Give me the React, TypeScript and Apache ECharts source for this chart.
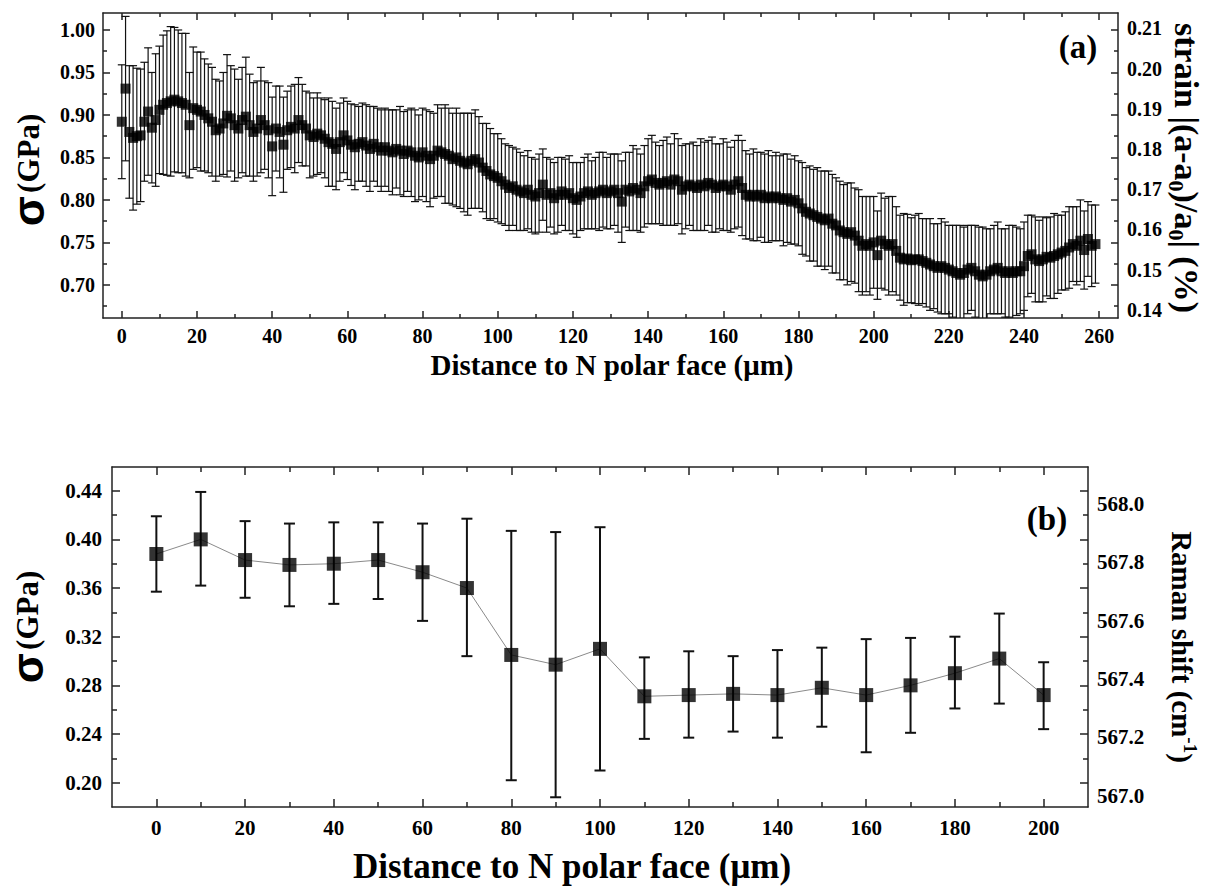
import React, { useEffect, useRef } from "react";
import * as echarts from "echarts";

// ---------- Panel (a): XRD stress profile, 1 µm step ----------
const distanceStartA = 0;
const distanceStepA = 1;
const stressA = [
  0.892, 0.931, 0.880, 0.873, 0.875, 0.876, 0.892, 0.904, 0.885, 0.894,
  0.906, 0.912, 0.914, 0.916, 0.918, 0.916, 0.914, 0.912, 0.888, 0.908,
  0.906, 0.904, 0.900, 0.896, 0.892, 0.882, 0.884, 0.890, 0.899, 0.896,
  0.888, 0.884, 0.894, 0.898, 0.888, 0.880, 0.884, 0.894, 0.888, 0.882,
  0.863, 0.884, 0.880, 0.865, 0.882, 0.886, 0.884, 0.894, 0.888, 0.884,
  0.876, 0.874, 0.878, 0.876, 0.872, 0.868, 0.866, 0.860, 0.868, 0.876,
  0.870, 0.865, 0.862, 0.866, 0.868, 0.864, 0.860, 0.866, 0.862, 0.858,
  0.862, 0.858, 0.856, 0.860, 0.858, 0.854, 0.858, 0.856, 0.852, 0.850,
  0.856, 0.852, 0.848, 0.852, 0.858, 0.856, 0.854, 0.852, 0.848, 0.850,
  0.846, 0.844, 0.842, 0.846, 0.848, 0.844, 0.838, 0.834, 0.830, 0.828,
  0.826, 0.822, 0.818, 0.814, 0.816, 0.812, 0.810, 0.808, 0.812, 0.806,
  0.804, 0.808, 0.818, 0.806, 0.808, 0.802, 0.806, 0.810, 0.806, 0.808,
  0.802, 0.800, 0.804, 0.808, 0.810, 0.806, 0.808, 0.810, 0.812, 0.808,
  0.810, 0.812, 0.808, 0.798, 0.812, 0.810, 0.814, 0.812, 0.808, 0.816,
  0.822, 0.824, 0.820, 0.818, 0.820, 0.822, 0.818, 0.824, 0.822, 0.812,
  0.816, 0.818, 0.816, 0.814, 0.818, 0.816, 0.820, 0.818, 0.814, 0.816,
  0.818, 0.816, 0.812, 0.818, 0.822, 0.814, 0.806, 0.804, 0.806, 0.804,
  0.806, 0.802, 0.804, 0.802, 0.804, 0.802, 0.800, 0.802, 0.798, 0.800,
  0.796, 0.790, 0.786, 0.784, 0.782, 0.780, 0.778, 0.776, 0.778, 0.772,
  0.770, 0.764, 0.762, 0.760, 0.762, 0.758, 0.752, 0.746, 0.748, 0.746,
  0.750, 0.735, 0.752, 0.748, 0.746, 0.748, 0.740, 0.732, 0.730, 0.731,
  0.729, 0.730, 0.730, 0.728, 0.726, 0.724, 0.722, 0.720, 0.722, 0.720,
  0.718, 0.716, 0.714, 0.712, 0.714, 0.718, 0.720, 0.716, 0.712, 0.710,
  0.712, 0.716, 0.718, 0.720, 0.716, 0.714, 0.716, 0.714, 0.716, 0.716,
  0.722, 0.734, 0.736, 0.730, 0.728, 0.730, 0.733, 0.732, 0.734, 0.736,
  0.738, 0.740, 0.744, 0.748, 0.746, 0.752, 0.741, 0.754, 0.746, 0.748,
];
const errorA = [
  0.067, 0.085, 0.078, 0.085, 0.080, 0.078, 0.070, 0.075, 0.065, 0.078,
  0.075, 0.082, 0.085, 0.088, 0.085, 0.084, 0.082, 0.084, 0.062, 0.072,
  0.068, 0.070, 0.066, 0.064, 0.064, 0.060, 0.056, 0.060, 0.072, 0.062,
  0.066, 0.058, 0.062, 0.070, 0.060, 0.058, 0.056, 0.062, 0.052, 0.056,
  0.058, 0.050, 0.054, 0.056, 0.046, 0.048, 0.052, 0.050, 0.048, 0.044,
  0.050, 0.046, 0.048, 0.044, 0.046, 0.052, 0.050, 0.048, 0.046, 0.044,
  0.046, 0.048, 0.050, 0.044, 0.046, 0.048, 0.050, 0.044, 0.046, 0.048,
  0.046, 0.048, 0.050, 0.046, 0.052, 0.050, 0.048, 0.052, 0.054, 0.050,
  0.052, 0.054, 0.056, 0.050, 0.054, 0.052, 0.058, 0.056, 0.054, 0.058,
  0.056, 0.058, 0.060, 0.056, 0.058, 0.054, 0.052, 0.056, 0.054, 0.050,
  0.052, 0.050, 0.048, 0.050, 0.046, 0.048, 0.046, 0.044, 0.046, 0.044,
  0.044, 0.046, 0.042, 0.044, 0.040, 0.042, 0.044, 0.040, 0.042, 0.044,
  0.042, 0.044, 0.040, 0.042, 0.044, 0.040, 0.042, 0.046, 0.044, 0.042,
  0.044, 0.042, 0.046, 0.048, 0.044, 0.046, 0.050, 0.048, 0.046, 0.048,
  0.050, 0.052, 0.048, 0.046, 0.050, 0.052, 0.048, 0.054, 0.050, 0.052,
  0.050, 0.048, 0.052, 0.050, 0.054, 0.052, 0.050, 0.056, 0.052, 0.050,
  0.054, 0.052, 0.050, 0.052, 0.054, 0.056, 0.052, 0.050, 0.054, 0.052,
  0.050, 0.052, 0.054, 0.050, 0.052, 0.050, 0.054, 0.052, 0.050, 0.052,
  0.050, 0.054, 0.052, 0.056, 0.054, 0.058, 0.056, 0.058, 0.056, 0.058,
  0.056, 0.058, 0.056, 0.060, 0.058, 0.056, 0.060, 0.058, 0.056, 0.058,
  0.054, 0.052, 0.056, 0.054, 0.058, 0.056, 0.052, 0.050, 0.054, 0.052,
  0.050, 0.052, 0.054, 0.050, 0.052, 0.054, 0.050, 0.052, 0.056, 0.054,
  0.052, 0.054, 0.056, 0.058, 0.054, 0.052, 0.050, 0.054, 0.056, 0.058,
  0.054, 0.050, 0.052, 0.054, 0.050, 0.052, 0.054, 0.056, 0.052, 0.050,
  0.052, 0.048, 0.046, 0.050, 0.048, 0.050, 0.046, 0.048, 0.050, 0.046,
  0.044, 0.046, 0.048, 0.044, 0.046, 0.048, 0.046, 0.044, 0.048, 0.046,
];

// ---------- Panel (b): Raman stress profile ----------
const distanceB = [0, 10, 20, 30, 40, 50, 60, 70, 80, 90, 100, 110, 120, 130, 140, 150, 160, 170, 180, 190, 200];
const stressB = [0.388, 0.400, 0.383, 0.379, 0.380, 0.383, 0.373, 0.360, 0.305, 0.297, 0.310, 0.271, 0.272, 0.273, 0.272, 0.278, 0.272, 0.280, 0.290, 0.302, 0.272];
const upperB = [0.419, 0.439, 0.415, 0.413, 0.414, 0.414, 0.413, 0.417, 0.407, 0.406, 0.410, 0.303, 0.308, 0.304, 0.309, 0.311, 0.318, 0.319, 0.320, 0.339, 0.299];
const lowerB = [0.357, 0.362, 0.352, 0.345, 0.347, 0.351, 0.333, 0.304, 0.202, 0.188, 0.210, 0.236, 0.237, 0.242, 0.237, 0.246, 0.225, 0.241, 0.261, 0.265, 0.244];

// ---------- Tick values ----------
const xTicksA = [0, 20, 40, 60, 80, 100, 120, 140, 160, 180, 200, 220, 240, 260];
const xMinorA = [10, 30, 50, 70, 90, 110, 130, 150, 170, 190, 210, 230, 250];
const yTicksA = [0.70, 0.75, 0.80, 0.85, 0.90, 0.95, 1.00];
const yMinorA = [0.675, 0.725, 0.775, 0.825, 0.875, 0.925, 0.975];
const strainTicksA = [0.14, 0.15, 0.16, 0.17, 0.18, 0.19, 0.20, 0.21];
const xTicksB = [0, 20, 40, 60, 80, 100, 120, 140, 160, 180, 200];
const xMinorB = [10, 30, 50, 70, 90, 110, 130, 150, 170, 190];
const yTicksB = [0.20, 0.24, 0.28, 0.32, 0.36, 0.40, 0.44];
const yMinorB = [0.22, 0.26, 0.30, 0.34, 0.38, 0.42];
const ramanTicksB = [567.0, 567.2, 567.4, 567.6, 567.8, 568.0];

const SERIF = "'Liberation Serif', 'Times New Roman', serif";
const AXIS_COLOR = "#222";

function App() {
  const ref = useRef<HTMLDivElement>(null);

  useEffect(() => {
    if (!ref.current) return;
    const chart = echarts.init(ref.current, null, { renderer: "svg" });

    const labelStyle = (size: number) => ({
      fontFamily: SERIF,
      fontWeight: "bold" as const,
      fontSize: size,
      color: "#000",
    });

    const xAxisDef = (
      grid: number,
      position: "top" | "bottom",
      min: number,
      max: number,
      ticks: number[],
      len: number,
      labels: boolean,
      line: boolean,
      fontSize: number,
      margin: number
    ) => ({
      type: "value",
      gridIndex: grid,
      position,
      min,
      max,
      splitLine: { show: false },
      axisLine: { show: line, onZero: false, lineStyle: { color: AXIS_COLOR, width: 1.5 } },
      axisTick: { show: true, inside: true, length: len, customValues: ticks, lineStyle: { color: AXIS_COLOR, width: 1.5 } },
      axisLabel: labels
        ? { show: true, customValues: ticks, margin, ...labelStyle(fontSize) }
        : { show: false },
    });

    const yAxisDef = (
      grid: number,
      position: "left" | "right",
      min: number,
      max: number,
      ticks: number[] | null,
      len: number,
      labels: number[] | null,
      line: boolean,
      fontSize: number,
      margin: number,
      digits: number
    ) => ({
      type: "value",
      gridIndex: grid,
      position,
      min,
      max,
      splitLine: { show: false },
      axisLine: { show: line, onZero: false, lineStyle: { color: AXIS_COLOR, width: 1.5 } },
      axisTick: ticks
        ? { show: true, inside: true, length: len, customValues: ticks, lineStyle: { color: AXIS_COLOR, width: 1.5 } }
        : { show: false },
      axisLabel: labels
        ? {
            show: true,
            customValues: labels,
            margin,
            formatter: (v: number) => v.toFixed(digits),
            ...labelStyle(fontSize),
          }
        : { show: false },
    });

    const A_XMIN = -5, A_XMAX = 265, A_YMIN = 0.661, A_YMAX = 1.02;
    const B_XMIN = -10, B_XMAX = 210, B_YMIN = 0.18, B_YMAX = 0.4595;

    const xAxis = [
      xAxisDef(0, "bottom", A_XMIN, A_XMAX, xTicksA, 7, true, true, 20, 8),
      xAxisDef(0, "bottom", A_XMIN, A_XMAX, xMinorA, 4, false, false, 20, 8),
      xAxisDef(0, "top", A_XMIN, A_XMAX, xTicksA, 7, false, true, 20, 8),
      xAxisDef(0, "top", A_XMIN, A_XMAX, xMinorA, 4, false, false, 20, 8),
      xAxisDef(1, "bottom", B_XMIN, B_XMAX, xTicksB, 8, true, true, 21, 10),
      xAxisDef(1, "bottom", B_XMIN, B_XMAX, xMinorB, 5, false, false, 21, 10),
      xAxisDef(1, "top", B_XMIN, B_XMAX, xTicksB, 8, false, true, 21, 10),
      xAxisDef(1, "top", B_XMIN, B_XMAX, xMinorB, 5, false, false, 21, 10),
    ];

    const yAxis = [
      yAxisDef(0, "left", A_YMIN, A_YMAX, yTicksA, 7, yTicksA, true, 20, 8, 2),
      yAxisDef(0, "left", A_YMIN, A_YMAX, yMinorA, 4, null, false, 20, 8, 2),
      yAxisDef(0, "right", 0.138, 0.2138, null, 0, strainTicksA, false, 20, 9, 2),
      yAxisDef(0, "right", A_YMIN, A_YMAX, yTicksA, 7, null, true, 20, 8, 2),
      yAxisDef(0, "right", A_YMIN, A_YMAX, yMinorA, 4, null, false, 20, 8, 2),
      yAxisDef(1, "left", B_YMIN, B_YMAX, yTicksB, 8, yTicksB, true, 21, 10, 2),
      yAxisDef(1, "left", B_YMIN, B_YMAX, yMinorB, 5, null, false, 21, 10, 2),
      yAxisDef(1, "right", 566.961, 568.127, null, 0, ramanTicksB, false, 21, 9, 1),
      yAxisDef(1, "right", B_YMIN, B_YMAX, yTicksB, 8, null, true, 21, 10, 2),
      yAxisDef(1, "right", B_YMIN, B_YMAX, yMinorB, 5, null, false, 21, 10, 2),
    ];

    const errorRender = (capHalf: number, lw: number, color: string) => (params: any, api: any) => {
      const x = api.value(0);
      const lo = api.value(1);
      const hi = api.value(2);
      const pHi = api.coord([x, hi]);
      const pLo = api.coord([x, lo]);
      const cs = params.coordSys;
      const top = cs.y;
      const bottom = cs.y + cs.height;
      const yHi = Math.max(pHi[1], top);
      const yLo = Math.min(pLo[1], bottom);
      const style = { stroke: color, lineWidth: lw };
      const children: any[] = [
        { type: "line", shape: { x1: pHi[0], y1: yHi, x2: pHi[0], y2: yLo }, style },
      ];
      if (pHi[1] >= top) {
        children.push({ type: "line", shape: { x1: pHi[0] - capHalf, y1: pHi[1], x2: pHi[0] + capHalf, y2: pHi[1] }, style });
      }
      if (pLo[1] <= bottom) {
        children.push({ type: "line", shape: { x1: pLo[0] - capHalf, y1: pLo[1], x2: pLo[0] + capHalf, y2: pLo[1] }, style });
      }
      return { type: "group", children };
    };

    const xA = stressA.map((_, i) => distanceStartA + i * distanceStepA);
    const errDataA = stressA.map((v, i) => [xA[i], v - errorA[i], v + errorA[i]]);
    const ptsA = stressA.map((v, i) => [xA[i], v]);
    const errDataB = distanceB.map((d, i) => [d, lowerB[i], upperB[i]]);
    const ptsB = distanceB.map((d, i) => [d, stressB[i]]);

    const titleFont = (size: number) => ({
      fontFamily: SERIF,
      fontWeight: "bold",
      fontSize: size,
      fill: "#000",
    });

    const option: any = {
      animation: false,
      backgroundColor: "#fff",
      grid: [
        { left: 103, top: 13, width: 1015, height: 305, containLabel: false },
        { left: 112, top: 467, width: 976, height: 340, containLabel: false },
      ],
      xAxis,
      yAxis,
      series: [
        {
          type: "custom",
          xAxisIndex: 0,
          yAxisIndex: 0,
          renderItem: errorRender(4, 1.2, "#111"),
          data: errDataA,
          encode: { x: 0, y: [1, 2] },
          z: 2,
          silent: true,
        },
        {
          type: "scatter",
          xAxisIndex: 0,
          yAxisIndex: 0,
          symbol: "rect",
          symbolSize: 10,
          itemStyle: { color: "#000" },
          data: ptsA,
          z: 3,
          silent: true,
        },
        {
          type: "line",
          xAxisIndex: 4,
          yAxisIndex: 5,
          symbol: "none",
          lineStyle: { color: "#8a8a8a", width: 1 },
          data: ptsB,
          z: 1,
          silent: true,
        },
        {
          type: "custom",
          xAxisIndex: 4,
          yAxisIndex: 5,
          renderItem: errorRender(5.5, 2, "#111"),
          data: errDataB,
          encode: { x: 0, y: [1, 2] },
          z: 2,
          silent: true,
        },
        {
          type: "scatter",
          xAxisIndex: 4,
          yAxisIndex: 5,
          symbol: "rect",
          symbolSize: 14,
          itemStyle: { color: "#000" },
          data: ptsB,
          z: 3,
          silent: true,
        },
      ],
      graphic: [
        {
          type: "text",
          x: 612,
          y: 365,
          style: { text: "Distance to N polar face (\u03bcm)", align: "center", verticalAlign: "middle", ...titleFont(29) },
        },
        {
          type: "text",
          x: 572,
          y: 866,
          style: { text: "Distance to N polar face (\u03bcm)", align: "center", verticalAlign: "middle", ...titleFont(35) },
        },
        {
          type: "text",
          x: 1078,
          y: 47,
          style: { text: "(a)", align: "center", verticalAlign: "middle", ...titleFont(33) },
        },
        {
          type: "text",
          x: 1047,
          y: 519,
          style: { text: "(b)", align: "center", verticalAlign: "middle", ...titleFont(33) },
        },
        {
          type: "text",
          x: 28,
          y: 170,
          rotation: Math.PI / 2,
          style: {
            text: "{s|\u03c3} {g|(GPa)}",
            align: "center",
            verticalAlign: "middle",
            rich: {
              s: { fontFamily: "'Liberation Sans', Arial, sans-serif", fontWeight: "bold", fontSize: 44, fill: "#000", verticalAlign: "middle", lineHeight: 46 },
              g: { fontFamily: SERIF, fontWeight: "bold", fontSize: 31, fill: "#000", verticalAlign: "middle", lineHeight: 46 },
            },
          },
        },
        {
          type: "text",
          x: 27,
          y: 627,
          rotation: Math.PI / 2,
          style: {
            text: "{s|\u03c3} {g|(GPa)}",
            align: "center",
            verticalAlign: "middle",
            rich: {
              s: { fontFamily: "'Liberation Sans', Arial, sans-serif", fontWeight: "bold", fontSize: 44, fill: "#000", verticalAlign: "middle", lineHeight: 46 },
              g: { fontFamily: SERIF, fontWeight: "bold", fontSize: 31, fill: "#000", verticalAlign: "middle", lineHeight: 46 },
            },
          },
        },
        {
          type: "text",
          x: 1186,
          y: 168,
          rotation: -Math.PI / 2,
          style: {
            text: "{m|strain |(a-a}{sub|0}{m|)/a}{sub|0}{m|| (%)}",
            align: "center",
            verticalAlign: "middle",
            rich: {
              m: { fontFamily: SERIF, fontWeight: "bold", fontSize: 34, fill: "#000", verticalAlign: "middle", lineHeight: 42 },
              sub: { fontFamily: SERIF, fontWeight: "bold", fontSize: 22, fill: "#000", verticalAlign: "bottom", lineHeight: 22, padding: [15, 0, 0, 0] },
            },
          },
        },
        {
          type: "text",
          x: 1182,
          y: 647,
          rotation: -Math.PI / 2,
          style: {
            text: "{m|Raman shift (cm}{sup|-1}{m|)}",
            align: "center",
            verticalAlign: "middle",
            rich: {
              m: { fontFamily: SERIF, fontWeight: "bold", fontSize: 29, fill: "#000", verticalAlign: "middle", lineHeight: 36 },
              sup: { fontFamily: SERIF, fontWeight: "bold", fontSize: 19, fill: "#000", verticalAlign: "top", lineHeight: 19, padding: [0, 0, 12, 0] },
            },
          },
        },
      ],
    };

    chart.setOption(option);
    return () => chart.dispose();
  }, []);

  return (
    <div
      ref={ref}
      style={{ position: "fixed", left: 0, top: 0, width: 1207, height: 889, background: "#fff" }}
    />
  );
}

export default App;
